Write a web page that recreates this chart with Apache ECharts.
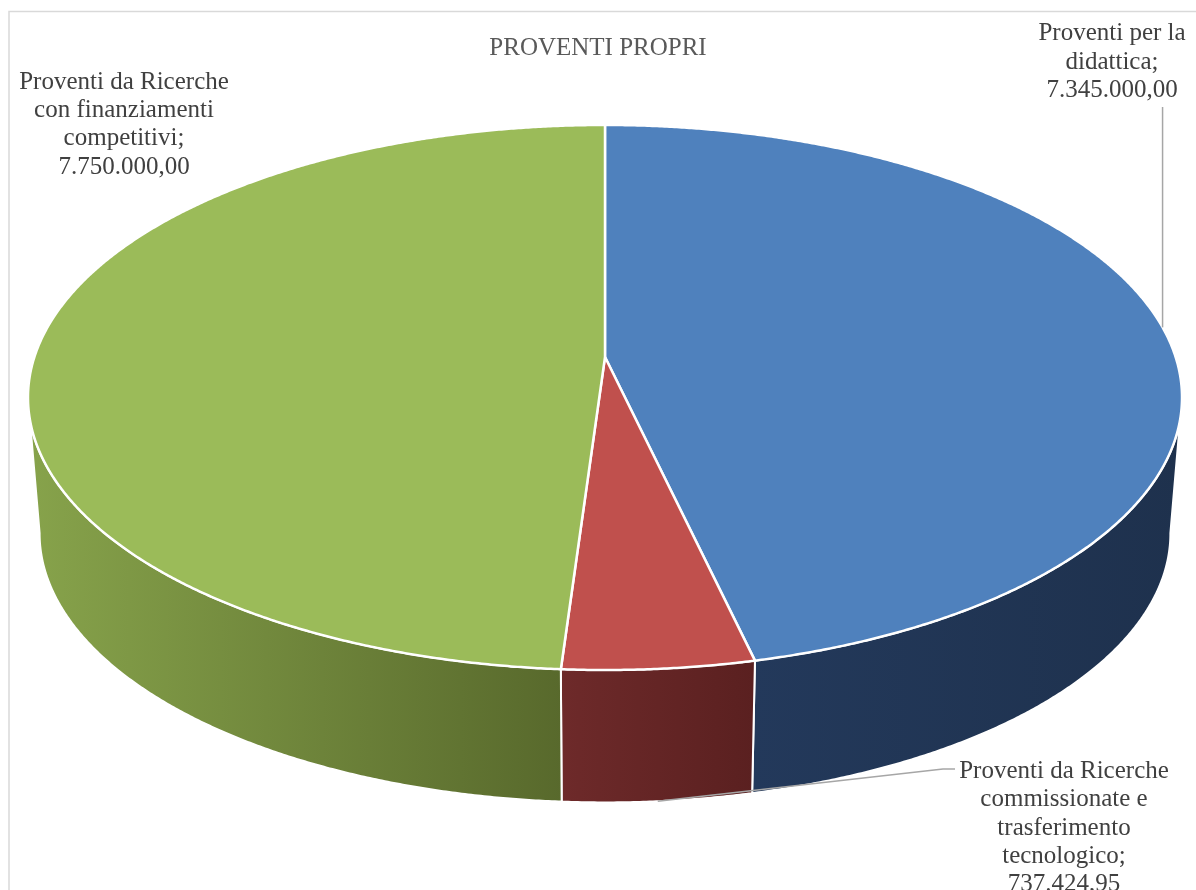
<!DOCTYPE html>
<html>
<head>
<meta charset="utf-8">
<script src="https://cdn.jsdelivr.net/npm/echarts@6/dist/echarts.min.js"></script>
<style>
html,body{margin:0;padding:0;background:#ffffff;}
#chart{width:1196px;height:890px;}
</style>
</head>
<body>
<div id="chart"></div>
<script>
// ---------- data ----------
const chartTitle = 'PROVENTI PROPRI';
const categories = [
  'Proventi per la didattica',
  'Proventi da Ricerche commissionate e trasferimento tecnologico',
  'Proventi da Ricerche con finanziamenti competitivi'
];
const values = [7345000.00, 737424.95, 7750000.00];
// wrapped category names, as in the reference labels
const labelLines = [
  ['Proventi per la', 'didattica'],
  ['Proventi da Ricerche', 'commissionate e', 'trasferimento', 'tecnologico'],
  ['Proventi da Ricerche', 'con finanziamenti', 'competitivi']
];

// ---------- styles / layout ----------
const topColors = ['#4F81BD', '#C0504D', '#9BBB59'];
const sideColors = [['#23395B', '#1E314D'], ['#6E2A2A', '#5A2020'], ['#87A34B', '#58692C']];
const FONT = '"Liberation Serif", "Times New Roman", serif';
const LABEL_SIZE = 25, LINE_H = 28.3;
const labelLayout = [
  {x: 1112, y: 62, leader: 'up', endY: 107},
  {x: 1064, y: 828, leader: 'elbow', pts: [[943, 769], [955, 769]]},
  {x: 124, y: 124.5, leader: null}
];
// perspective projection of the pie disc (top face and bottom face)
const G = {
  cx: 605,
  top: {y0: 357, a: 570.6, b: 266.5, k: 0.1486},
  bot: {y0: 493, a: 559, b: 263, k: 0.15}
};
function proj(p, th) {
  const u = Math.sin(th), v = -Math.cos(th);
  const s = 1 / (1 - p.k * v);
  return [G.cx + p.a * u * s, p.y0 + p.b * v * s];
}
const TH_R = Math.PI / 2 + Math.asin(G.top.k);
const TH_L = 3 * Math.PI / 2 - Math.asin(G.top.k);

const total = values.reduce((a, b) => a + b, 0);
const starts = [];
(function () { let acc = 0; values.forEach(v => { starts.push(acc / total * 2 * Math.PI); acc += v; }); })();
function sliceAngles(i, val) {
  const a0 = starts[i];
  return [a0, a0 + val / total * 2 * Math.PI];
}
function fmtIt(v) {
  const parts = v.toFixed(2).split('.');
  return parts[0].replace(/\B(?=(\d{3})+(?!\d))/g, '.') + ',' + parts[1];
}

function renderSide(params, api) {
  const i = params.dataIndex;
  const [a0, a1] = sliceAngles(i, api.value(0));
  const s = Math.max(a0, TH_R), e = Math.min(a1, TH_L);
  if (e <= s) return {type: 'group', children: []};
  const n = Math.max(2, Math.ceil((e - s) / 0.005));
  const pts = [];
  for (let j = 0; j <= n; j++) pts.push(proj(G.top, s + (e - s) * j / n));
  for (let j = n; j >= 0; j--) pts.push(proj(G.bot, s + (e - s) * j / n));
  return {
    type: 'polygon',
    shape: {points: pts},
    style: {
      fill: new echarts.graphic.LinearGradient(0, 0, 1, 0, [
        {offset: 0, color: sideColors[i][0]},
        {offset: 1, color: sideColors[i][1]}
      ]),
      stroke: '#ffffff', lineWidth: 2, lineJoin: 'round'
    }
  };
}

function renderTop(params, api) {
  const i = params.dataIndex;
  const [a0, a1] = sliceAngles(i, api.value(0));
  const n = Math.max(2, Math.ceil((a1 - a0) / 0.005));
  const pts = [[G.cx, G.top.y0]];
  for (let j = 0; j <= n; j++) pts.push(proj(G.top, a0 + (a1 - a0) * j / n));
  return {
    type: 'polygon',
    shape: {points: pts},
    style: {fill: topColors[i], stroke: '#ffffff', lineWidth: 2.5, lineJoin: 'round'}
  };
}

function renderLabel(params, api) {
  const i = params.dataIndex;
  const val = api.value(0);
  const [a0, a1] = sliceAngles(i, val);
  const mid = (a0 + a1) / 2;
  const L = labelLayout[i];
  const lines = labelLines[i].slice();
  lines[lines.length - 1] += ';';
  lines.push(fmtIt(val));
  const children = [];
  const nL = lines.length;
  lines.forEach((t, j) => {
    children.push({
      type: 'text',
      style: {
        text: t, x: L.x, y: L.y + (j - (nL - 1) / 2) * LINE_H,
        textAlign: 'center', textVerticalAlign: 'middle',
        font: LABEL_SIZE + 'px ' + FONT, fill: '#404040'
      }
    });
  });
  if (L.leader === 'up') {
    const p = proj(G.top, mid);
    children.push({type: 'polyline', shape: {points: [p, [p[0], L.endY]]},
      style: {stroke: '#A6A6A6', lineWidth: 1.5, fill: null}});
  } else if (L.leader === 'elbow') {
    const p = proj(G.bot, mid);
    children.push({type: 'polyline', shape: {points: [p].concat(L.pts)},
      style: {stroke: '#A6A6A6', lineWidth: 1.5, fill: null}});
  }
  return {type: 'group', children: children};
}

const seriesData = values.map((v, i) => ({name: categories[i], value: [v]}));

const chart = echarts.init(document.getElementById('chart'), null, {renderer: 'canvas'});
chart.setOption({
  animation: false,
  backgroundColor: '#ffffff',
  title: {
    text: chartTitle, left: 'center', top: 35, padding: 0,
    textStyle: {fontFamily: FONT, fontSize: 25, fontWeight: 'normal', color: '#595959', lineHeight: 26}
  },
  graphic: [{
    type: 'rect', shape: {x: 9, y: 11.5, width: 1200, height: 900},
    style: {fill: null, stroke: '#D9D9D9', lineWidth: 1.5}, silent: true, z: -10
  }],
  series: [
    {type: 'custom', coordinateSystem: 'none', z: 1, renderItem: renderSide, data: seriesData, silent: true},
    {type: 'custom', coordinateSystem: 'none', z: 2, renderItem: renderTop, data: seriesData, silent: true},
    {type: 'custom', coordinateSystem: 'none', z: 3, renderItem: renderLabel, data: seriesData, silent: true}
  ]
});
</script>
</body>
</html>
